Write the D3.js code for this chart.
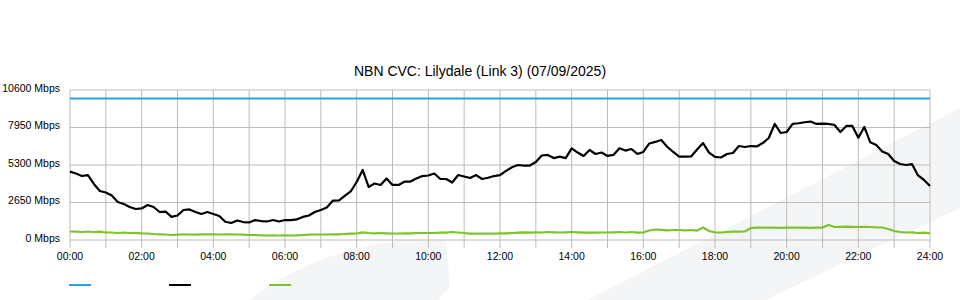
<!DOCTYPE html>
<html>
<head>
<meta charset="utf-8">
<script src="https://cdn.jsdelivr.net/npm/d3@7/dist/d3.min.js"></script>
<style>
  body { margin: 0; background: #fff; }
  svg { display: block; font-family: "Liberation Sans", Arial, sans-serif; }
</style>
</head>
<body>
<svg width="960" height="300"></svg>
<script>
var svg = d3.select("svg"),
  width = +svg.attr("width"),
  height = +svg.attr("height");

var title = "NBN CVC: Lilydale (Link 3) (07/09/2025)";

// samples every 10 minutes, 00:00 .. 24:00
var minutes = d3.range(0, 1441, 10);

var capacity = 10000;

var traffic = [4830,4700,4520,4590,3960,3460,3360,3140,2690,2540,
  2330,2190,2230,2470,2330,1980,2010,1630,1730,2120,
  2160,1980,1840,1980,1840,1700,1290,1200,1380,1270,
  1240,1410,1340,1310,1410,1310,1410,1410,1460,1630,
  1730,1980,2120,2300,2780,2790,3110,3430,4100,4950,
  3750,3990,3890,4350,3890,3890,4120,4130,4350,4520,
  4560,4700,4310,4310,4060,4590,4490,4380,4590,4310,
  4400,4520,4580,4880,5140,5300,5260,5260,5510,5970,
  6010,5790,5890,5790,6470,6180,5940,6360,6080,6180,
  5940,6010,6480,6320,6430,6080,6220,6820,6930,7070,
  6590,6220,5890,5890,5900,6400,6850,6180,5870,5830,
  6080,6150,6640,6570,6640,6610,6850,7210,8200,7560,
  7630,8200,8250,8320,8370,8200,8230,8200,8130,7630,
  8060,8060,7230,7990,6900,6710,6250,6080,5580,5370,
  5300,5360,4560,4240,3820];

var upload = [601,587,565,601,565,587,530, 530,495,530,495,509,473,
  459,424,403,389,353,375, 403,389,375,403,403,403,
  389,403,403,389,375,353, 353,332,318,332,318,332,
  318,332,353,375,389,389, 389,403,403,424,445,459,
  544,495,473,495,473,459, 459,473,473,495,495,495,
  495,530,516,565,530,495, 445,445,445,445,445,473,
  473,495,516,544,516,544, 530,565,544,530,544,565,
  544,516,516,516,530,530, 544,565,530,565,516,544,
  671,742,721,685,707,707, 685,707,671,883,636,544,
  530,565,587,587,601, 848,
  869,869,876,869,862,869,876,869,869,862,869,876,
  1060, 919,
  933,940,933,919,933,919,897,883,777,
  636,565,530,544,495,516,473];

var yTicks = [0, 2650, 5300, 7950, 10600];
var xTickHours = d3.range(0, 25, 2);

var colors = { capacity: "#27a3dd", traffic: "#000000", upload: "#7cc32c" };

var margin = { left: 70, right: 30, top: 90, bottom: 60 };

var x = d3.scaleLinear().domain([0, 1440]).range([margin.left, width - margin.right]);
var y = d3.scaleLinear().domain([0, 10600]).range([height - margin.bottom, margin.top]);

// faint background watermark
var mark = svg.append("g").attr("fill", "#f4f5f7");
mark.append("path").attr("d", "M250,300 C290,268 345,246 405,240 L446,241 L450,286 L438,300 Z");
mark.append("path").attr("d", "M588,300 L960,108 L960,208 L765,300 Z");

// grid
var grid = svg.append("g").attr("stroke", "#bcbcbc").attr("stroke-width", 1);
grid.selectAll("line.v")
  .data(d3.range(0, 25))
  .enter()
  .append("line")
  .attr("class", "v")
  .attr("x1", function (d) { return x(d * 60); })
  .attr("x2", function (d) { return x(d * 60); })
  .attr("y1", y(10600))
  .attr("y2", y(0) + 8);

grid.selectAll("line.h")
  .data(yTicks)
  .enter()
  .append("line")
  .attr("class", "h")
  .attr("x1", x(0))
  .attr("x2", x(1440))
  .attr("y1", function (d) { return y(d); })
  .attr("y2", function (d) { return y(d); });

// y labels
svg.append("g")
  .selectAll("text")
  .data(yTicks)
  .enter()
  .append("text")
  .attr("x", 60)
  .attr("y", function (d) { return y(d) + 1.5; })
  .attr("text-anchor", "end")
  .attr("font-size", 10.5)
  .attr("fill", "#000")
  .text(function (d) { return d + " Mbps"; });

// x labels
svg.append("g")
  .selectAll("text")
  .data(xTickHours)
  .enter()
  .append("text")
  .attr("x", function (d) { return x(d * 60); })
  .attr("y", 260)
  .attr("text-anchor", "middle")
  .attr("font-size", 10.5)
  .attr("fill", "#000")
  .text(function (d) { return (d < 10 ? "0" : "") + d + ":00"; });

svg.append("text")
  .attr("x", width / 2)
  .attr("y", 75.5)
  .attr("text-anchor", "middle")
  .attr("font-size", 14)
  .attr("fill", "#000")
  .text(title);

var line = d3.line()
  .x(function (d, i) { return x(minutes[i]); })
  .y(function (d) { return y(d); });

svg.append("line")
  .attr("x1", x(0))
  .attr("x2", x(1440))
  .attr("y1", y(capacity))
  .attr("y2", y(capacity))
  .attr("stroke", colors.capacity)
  .attr("stroke-width", 2);

svg.append("path")
  .datum(upload)
  .attr("fill", "none")
  .attr("stroke", colors.upload)
  .attr("stroke-width", 2.2)
  .attr("d", line);

svg.append("path")
  .datum(traffic)
  .attr("fill", "none")
  .attr("stroke", colors.traffic)
  .attr("stroke-width", 2.2)
  .attr("stroke-linejoin", "round")
  .attr("d", line);

// legend swatches (no labels in the original)
svg.append("g")
  .selectAll("line")
  .data([colors.capacity, colors.traffic, colors.upload])
  .enter()
  .append("line")
  .attr("x1", function (d, i) { return 69 + i * 100; })
  .attr("x2", function (d, i) { return 91 + i * 100; })
  .attr("y1", 285)
  .attr("y2", 285)
  .attr("stroke", function (d) { return d; })
  .attr("stroke-width", 2);
</script>
</body>
</html>
